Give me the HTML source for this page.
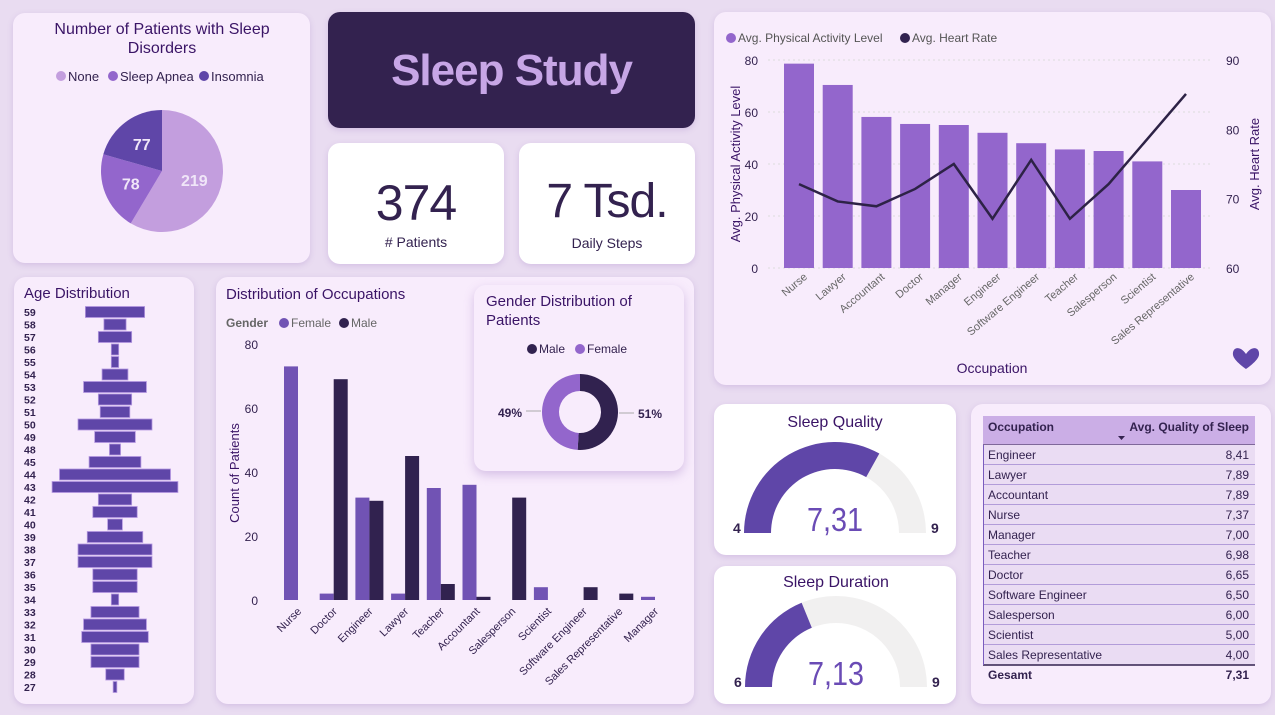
<!DOCTYPE html>
<html><head><meta charset="utf-8">
<style>
*{box-sizing:border-box;margin:0;padding:0}
body{width:1275px;height:715px;background:#e9dcf1;font-family:"Liberation Sans",sans-serif;position:relative;overflow:hidden;color:#33224f}
.card{position:absolute;background:#f8ecfc;border-radius:12px;box-shadow:0 2px 6px rgba(150,110,190,.25)}
svg{position:absolute;left:0;top:0}
svg text{font-family:"Liberation Sans",sans-serif}
</style></head><body>
<div class="card" style="left:13px;top:13px;width:297px;height:250px"></div>
<div class="card" style="left:328px;top:12px;width:367px;height:116px;background:#33224f"></div>
<div style="position:absolute;left:328px;top:46px;width:367px;text-align:center;font-size:44px;font-weight:bold;color:#c7a6e6;letter-spacing:-1px">Sleep Study</div>
<div class="card" style="left:328px;top:143px;width:176px;height:121px;background:#fff"></div>
<div style="position:absolute;left:328px;top:174px;width:176px;text-align:center;font-size:50px;color:#33224f;letter-spacing:-1px">374</div>
<div style="position:absolute;left:328px;top:234px;width:176px;text-align:center;font-size:14px;color:#33224f"># Patients</div>
<div class="card" style="left:519px;top:143px;width:176px;height:121px;background:#fff"></div>
<div style="position:absolute;left:519px;top:174px;width:176px;text-align:center;font-size:48px;color:#33224f;letter-spacing:-1px">7 Tsd.</div>
<div style="position:absolute;left:519px;top:235px;width:176px;text-align:center;font-size:14px;color:#33224f">Daily Steps</div>
<div class="card" style="left:714px;top:12px;width:557px;height:373px"></div>
<div class="card" style="left:14px;top:277px;width:180px;height:427px"></div>
<div class="card" style="left:216px;top:277px;width:478px;height:427px"></div>
<div class="card" style="left:474px;top:285px;width:210px;height:186px;box-shadow:0 4px 10px rgba(150,110,190,.35)"></div>
<div class="card" style="left:714px;top:404px;width:242px;height:151px;background:#fff"></div>
<div class="card" style="left:714px;top:566px;width:242px;height:138px;background:#fff"></div>
<div class="card" style="left:971px;top:404px;width:300px;height:300px"></div>

<svg id="s" width="1275" height="715"></svg>

<script>
// ---- data ----
const pieLabels=["None","Sleep Apnea","Insomnia"];
const pieValues=[219,78,77];
const ages=[59,58,57,56,55,54,53,52,51,50,49,48,45,44,43,42,41,40,39,38,37,36,35,34,33,32,31,30,29,28,27];
const ageCounts=[16,6,9,2,2,7,17,9,8,20,11,3,14,30,34,9,12,4,15,20,20,12,12,2,13,17,18,13,13,5,1];
const occCats=["Nurse","Doctor","Engineer","Lawyer","Teacher","Accountant","Salesperson","Scientist","Software Engineer","Sales Representative","Manager"];
const occFemale=[73,2,32,2,35,36,0,4,0,0,1];
const occMale=[0,69,31,45,5,1,32,0,4,2,0];
const occTicks=[0,20,40,60,80];
const genderLabels=["Male","Female"];
const genderValues=[51,49];
const actCats=["Nurse","Lawyer","Accountant","Doctor","Manager","Engineer","Software Engineer","Teacher","Salesperson","Scientist","Sales Representative"];
const actValues=[78.6,70.4,58.1,55.4,55,52,48,45.6,45,41,30];
const hrValues=[72.1,69.6,68.9,71.4,75,67.1,75.6,67.1,72.1,78.6,85.1];
const actTicks=[0,20,40,60,80];
const hrTicks=[60,70,80,90];
const tblCats=["Engineer","Lawyer","Accountant","Nurse","Manager","Teacher","Doctor","Software Engineer","Salesperson","Scientist","Sales Representative"];
const tblValues=[8.41,7.89,7.89,7.37,7.00,6.98,6.65,6.50,6.00,5.00,4.00];
const tblTotal=7.31;
const gaugeQuality=[4,9,7.31];
const gaugeDuration=[6,9,7.13];

const NS="http://www.w3.org/2000/svg";
const S=document.getElementById('s');
function mk(tag,attrs,txt,name,inter){const e=document.createElementNS(NS,tag);for(const k in attrs)e.setAttribute(k,attrs[k]);if(txt!==undefined&&txt!==null)e.textContent=txt;


S.appendChild(e);return e;}
const fmt=v=>v.toFixed(2).replace('.',',');

// ---- pie ----
mk('text',{x:162,y:34,'text-anchor':'middle','font-size':16,fill:'#3a1466'},'Number of Patients with Sleep','pie-title');
mk('text',{x:162,y:53,'text-anchor':'middle','font-size':16,fill:'#3a1466'},'Disorders','pie-title-line2');
const pieCols=["#c39ede","#9366cc","#5f46a8"];
let lx=[56,108,199];
pieLabels.forEach((l,i)=>{mk('circle',{cx:lx[i]+5,cy:76,r:5,fill:pieCols[i]},null,'pie-legend-dot',true);
mk('text',{x:lx[i]+12,y:81,'font-size':13,fill:'#33224f'},l,'pie-legend-'+l.toLowerCase().replace(' ','-'),true);});
{const cx=162,cy=171,r=61;const tot=pieValues.reduce((a,b)=>a+b,0);let a0=-Math.PI/2;
pieValues.forEach((v,i)=>{const a1=a0+v/tot*2*Math.PI;const big=(a1-a0)>Math.PI?1:0;
mk('path',{d:`M${cx},${cy}L${cx+r*Math.cos(a0)},${cy+r*Math.sin(a0)}A${r},${r} 0 ${big} 1 ${cx+r*Math.cos(a1)},${cy+r*Math.sin(a1)}Z`,fill:pieCols[i]},null,'pie-slice-'+i,true);
const am=(a0+a1)/2;mk('text',{x:cx+r*0.55*Math.cos(am),y:cy+r*0.55*Math.sin(am)+6,'text-anchor':'middle','font-size':16,'font-weight':'bold',fill:'#f0e6f8'},v,'pie-label');
a0=a1;});}

// ---- age ----
mk('text',{x:24,y:298,'font-size':15,fill:'#3a1466'},'Age Distribution','age-title');
{const cx=115,top=312,pitch=12.5,k=3.7;
ages.forEach((a,i)=>{const y=top+i*pitch;const w=ageCounts[i]*k;
mk('text',{x:24,y:y+4,'font-size':10.5,'font-weight':'bold',fill:'#33224f'},a,'age-label');
mk('rect',{x:cx-w/2,y:y-5.5,width:w,height:11,fill:'#5f46a8',stroke:'#b497e0','stroke-width':0.8},null,'age-bar-'+a,true);});}

// ---- occupation chart ----
mk('text',{x:226,y:299,'font-size':15,fill:'#3a1466'},'Distribution of Occupations','occupation-title');
mk('text',{x:226,y:327,'font-size':12,fill:'#666','font-weight':'bold'},'Gender','occ-legend-title');
mk('circle',{cx:284,cy:323,r:5,fill:'#7153b4'},null,'occ-legend-dot-female',true);
mk('text',{x:291,y:327,'font-size':12,fill:'#666'},'Female','occ-legend-female',true);
mk('circle',{cx:344,cy:323,r:5,fill:'#31224f'},null,'occ-legend-dot-male',true);
mk('text',{x:351,y:327,'font-size':12,fill:'#666'},'Male','occ-legend-male',true);
{const y0=600,y80=344,ys=v=>y0-(v/80)*(y0-y80);const gx=i=>284+i*35.7;
occTicks.forEach(t=>mk('text',{x:258,y:ys(t)+5,'text-anchor':'end','font-size':12,fill:'#33224f'},t,'occ-y-tick'));
mk('text',{x:0,y:0,transform:'translate(239,473) rotate(-90)','text-anchor':'middle','font-size':13,fill:'#3a1466'},'Count of Patients','occ-y-axis-title');
occCats.forEach((c,i)=>{const x=gx(i);
if(occFemale[i]>0)mk('rect',{x:x,y:ys(occFemale[i]),width:14,height:y0-ys(occFemale[i]),fill:'#7153b4'},null,'occ-bar-female',true);
if(occMale[i]>0)mk('rect',{x:x+14,y:ys(occMale[i]),width:14,height:y0-ys(occMale[i]),fill:'#31224f'},null,'occ-bar-male',true);
mk('text',{x:0,y:0,transform:`translate(${x+18},${612}) rotate(-45)`,'text-anchor':'end','font-size':11,fill:'#33224f'},c,'occ-x-label');});}

// ---- gender donut ----
mk('text',{x:486,y:306,'font-size':15,fill:'#3a1466'},'Gender Distribution of','gender-title');
mk('text',{x:486,y:325,'font-size':15,fill:'#3a1466'},'Patients','gender-title-line2');
mk('circle',{cx:532,cy:349,r:5,fill:'#31224f'},null,'gender-legend-dot-male',true);
mk('text',{x:539,y:353,'font-size':12,fill:'#33224f'},'Male','gender-legend-male',true);
mk('circle',{cx:580,cy:349,r:5,fill:'#9366cc'},null,'gender-legend-dot-female',true);
mk('text',{x:587,y:353,'font-size':12,fill:'#33224f'},'Female','gender-legend-female',true);
{const cx=580,cy=412,R=38,r=21;const gc=['#31224f','#9366cc'];const tot=genderValues[0]+genderValues[1];let a0=-Math.PI/2;
genderValues.forEach((v,i)=>{const a1=a0+v/tot*2*Math.PI;const big=(a1-a0)>Math.PI?1:0;const p=(rr,a)=>`${cx+rr*Math.cos(a)},${cy+rr*Math.sin(a)}`;
mk('path',{d:`M${p(R,a0)}A${R},${R} 0 ${big} 1 ${p(R,a1)}L${p(r,a1)}A${r},${r} 0 ${big} 0 ${p(r,a0)}Z`,fill:gc[i]},null,'gender-slice-'+genderLabels[i].toLowerCase(),true);a0=a1;});
mk('line',{x1:619,y1:413,x2:634,y2:413,stroke:'#aaa'},null,'gender-leader');
mk('line',{x1:526,y1:411,x2:541,y2:411,stroke:'#aaa'},null,'gender-leader');
mk('text',{x:638,y:418,'font-size':12,'font-weight':'bold',fill:'#33224f'},genderValues[0]+'%','gender-label-male');
mk('text',{x:522,y:417,'text-anchor':'end','font-size':12,'font-weight':'bold',fill:'#33224f'},genderValues[1]+'%','gender-label-female');}

// ---- activity chart ----
mk('circle',{cx:731,cy:38,r:5,fill:'#9366cc'},null,'act-legend-dot',true);
mk('text',{x:738,y:42,'font-size':12,fill:'#555'},'Avg. Physical Activity Level','act-legend-activity',true);
mk('circle',{cx:905,cy:38,r:5,fill:'#31224f'},null,'act-legend-dot-hr',true);
mk('text',{x:912,y:42,'font-size':12,fill:'#555'},'Avg.  Heart Rate','act-legend-hr',true);
{const y0=268,yt=60,ys=v=>y0-(v/80)*(y0-yt),yh=v=>y0-((v-60)/30)*(y0-yt);const bx=i=>784+i*38.7;
actTicks.forEach(t=>{mk('line',{x1:768,x2:1212,y1:ys(t),y2:ys(t),stroke:'#ddd','stroke-dasharray':'2,3'},null,'act-gridline');
mk('text',{x:758,y:ys(t)+5,'text-anchor':'end','font-size':12,fill:'#33224f'},t,'act-y-tick');});
hrTicks.forEach(t=>mk('text',{x:1226,y:yh(t)+5,'font-size':12,fill:'#33224f'},t,'hr-y-tick'));
mk('text',{x:0,y:0,transform:'translate(740,164) rotate(-90)','text-anchor':'middle','font-size':13,fill:'#3a1466'},'Avg. Physical Activity Level','act-y-axis-title');
mk('text',{x:0,y:0,transform:'translate(1259,164) rotate(-90)','text-anchor':'middle','font-size':13,fill:'#3a1466'},'Avg. Heart Rate','hr-y-axis-title');
let pts=[];
actCats.forEach((c,i)=>{const x=bx(i);mk('rect',{x:x,y:ys(actValues[i]),width:30,height:y0-ys(actValues[i]),fill:'#9366cc'},null,'act-bar',true);
pts.push(`${x+15},${yh(hrValues[i])}`);
mk('text',{x:0,y:0,transform:`translate(${x+24},${278}) rotate(-40)`,'text-anchor':'end','font-size':11,fill:'#666'},c,'act-x-label');});
mk('polyline',{points:pts.join(' '),fill:'none',stroke:'#2d2246','stroke-width':2.5},null,'hr-line',true);
mk('text',{x:992,y:373,'text-anchor':'middle','font-size':14,fill:'#3a1466'},'Occupation','act-x-axis-title');
mk('path',{d:'M1246,354 C1240,345 1232,347 1233,355 C1234,361 1246,369 1246,369 C1246,369 1258,361 1259,355 C1260,347 1252,345 1246,354Z',fill:'#5f46a8'},null,'heart-icon',true);}

// ---- gauges ----
function gauge(g,cx,cy,title,ty,name){const [mn,mx,v]=g;const R=91,r=64;const f=(v-mn)/(mx-mn);
const P=(rr,a)=>`${cx-rr*Math.cos(a)},${cy-rr*Math.sin(a)}`;
mk('path',{d:`M${P(R,0)}A${R},${R} 0 0 1 ${P(R,Math.PI)}L${P(r,Math.PI)}A${r},${r} 0 0 0 ${P(r,0)}Z`,fill:'#f1f0f0'},null,name+'-track');
const a=f*Math.PI;
mk('path',{d:`M${P(R,0)}A${R},${R} 0 0 1 ${P(R,a)}L${P(r,a)}A${r},${r} 0 0 0 ${P(r,0)}Z`,fill:'#5f46a8'},null,name+'-fill',true);
mk('text',{x:cx,y:ty,'text-anchor':'middle','font-size':16,fill:'#3a1466'},title,name+'-title');
mk('text',{x:cx,y:cy-2,'text-anchor':'middle','font-size':33,fill:'#6a4bb5',textLength:56,lengthAdjust:'spacingAndGlyphs'},v.toFixed(2).replace('.',','),name+'-value');
mk('text',{x:cx-102,y:cy,'font-size':14,'font-weight':'bold',fill:'#33224f'},mn,name+'-min');
mk('text',{x:cx+96,y:cy,'font-size':14,'font-weight':'bold',fill:'#33224f'},mx,name+'-max');}
gauge(gaugeQuality,835,533,'Sleep Quality',427,'sleep-quality-gauge');
gauge(gaugeDuration,836,687,'Sleep Duration',587,'sleep-duration-gauge');

// ---- table ----
mk('rect',{x:983,y:416,width:272,height:29,fill:'#cbaee6'},null,'table-header-bg');
mk('text',{x:988,y:431,'font-size':12,'font-weight':'bold',fill:'#33224f'},'Occupation','table-header-occupation',true);
mk('text',{x:1249,y:431,'text-anchor':'end','font-size':12,'font-weight':'bold',fill:'#33224f'},'Avg. Quality of Sleep','table-header-quality',true);
mk('path',{d:'M1118,436 l7,0 l-3.5,4z',fill:'#33224f'},null,'sort-arrow',true);
mk('line',{x1:983,x2:1255,y1:445,y2:445,stroke:'#33224f'},null,'table-line');
tblCats.forEach((c,i)=>{const y=445+i*20;
mk('rect',{x:983,y:y,width:272,height:20,fill:'#eadcf3'},null,'table-row',true);
mk('line',{x1:983,x2:1255,y1:y+20,y2:y+20,stroke:i==tblCats.length-1?'#33224f':'#7a5cbf','stroke-width':i==tblCats.length-1?1.5:1},null,'table-row-line');
mk('line',{x1:983.5,x2:983.5,y1:y,y2:y+20,stroke:'#7a5cbf'},null,'table-row-edge');
mk('text',{x:988,y:y+14,'font-size':12,fill:'#33224f'},c,'table-cell-occupation');
mk('text',{x:1249,y:y+14,'text-anchor':'end','font-size':12,fill:'#33224f'},fmt(tblValues[i]),'table-cell-value');});
mk('text',{x:988,y:679,'font-size':12,'font-weight':'bold',fill:'#33224f'},'Gesamt','table-total-label');
mk('text',{x:1249,y:679,'text-anchor':'end','font-size':12,'font-weight':'bold',fill:'#33224f'},fmt(tblTotal),'table-total-value');
</script>
</body></html>
